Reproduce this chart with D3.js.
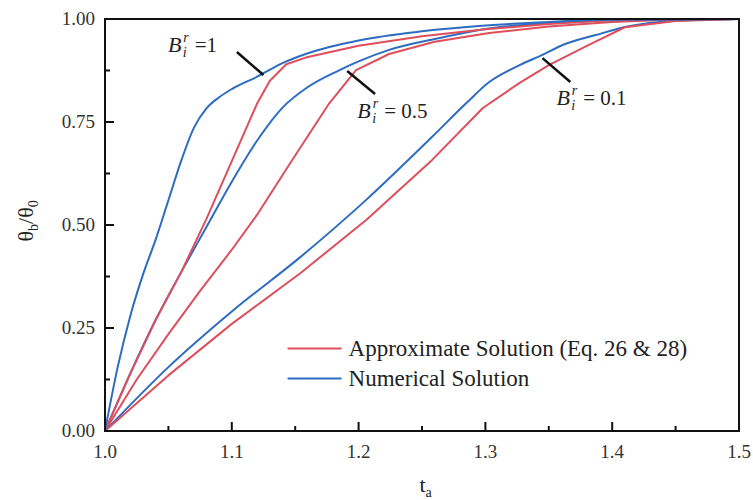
<!DOCTYPE html>
<html>
<head>
<meta charset="utf-8">
<script src="https://cdn.jsdelivr.net/npm/d3@7"></script>
<style>
    body { margin: 0; background: #fff; }
    svg { display: block; }
</style>
</head>
<body>
<div id="chart"></div>
<script>
// [t_a, theta_b/theta_0]
const approxB1 = [[1, 0], [1.02, 0.14], [1.04, 0.27], [1.06, 0.385], [1.08, 0.515], [1.1, 0.655], [1.12, 0.795], [1.13, 0.85], [1.143, 0.89], [1.16, 0.908], [1.2, 0.935], [1.25, 0.958], [1.3, 0.975], [1.35, 0.988], [1.4, 0.997], [1.45, 1.0], [1.5, 1.0]];
const approxB05 = [[1, 0], [1.025, 0.125], [1.05, 0.235], [1.075, 0.34], [1.1, 0.44], [1.12, 0.525], [1.146, 0.65], [1.177, 0.796], [1.198, 0.876], [1.224, 0.915], [1.26, 0.945], [1.303, 0.966], [1.35, 0.982], [1.4, 0.993], [1.45, 0.999], [1.5, 1.0]];
const approxB01 = [[1, 0], [1.05, 0.135], [1.1, 0.26], [1.154, 0.383], [1.206, 0.512], [1.258, 0.658], [1.298, 0.784], [1.327, 0.845], [1.35, 0.888], [1.38, 0.935], [1.41, 0.98], [1.45, 0.995], [1.5, 1.0]];

const numericalB1 = [[1, 0], [1.01, 0.155], [1.02, 0.28], [1.03, 0.38], [1.04, 0.465], [1.05, 0.56], [1.06, 0.655], [1.07, 0.735], [1.08, 0.783], [1.09, 0.81], [1.1, 0.83], [1.12, 0.86], [1.14, 0.893], [1.16, 0.917], [1.2, 0.948], [1.25, 0.97], [1.3, 0.984], [1.35, 0.993], [1.4, 0.998], [1.5, 1.0]];
const numericalB05 = [[1, 0], [1.02, 0.14], [1.04, 0.27], [1.06, 0.385], [1.08, 0.495], [1.1, 0.605], [1.12, 0.705], [1.14, 0.785], [1.16, 0.835], [1.185, 0.876], [1.2, 0.897], [1.224, 0.925], [1.264, 0.954], [1.3, 0.976], [1.35, 0.99], [1.4, 0.997], [1.5, 1.0]];
const numericalB01 = [[1, 0], [1.05, 0.155], [1.1, 0.29], [1.154, 0.422], [1.206, 0.561], [1.258, 0.714], [1.285, 0.796], [1.303, 0.847], [1.327, 0.888], [1.345, 0.913], [1.361, 0.937], [1.387, 0.961], [1.411, 0.981], [1.45, 0.996], [1.5, 1.0]];

const xTicks = [1.0, 1.1, 1.2, 1.3, 1.4, 1.5];
const yTicks = [0, 0.25, 0.5, 0.75, 1.0];
const legendLabels = ["Approximate Solution (Eq. 26 & 28)", "Numerical Solution"];
// annotation: value text, text anchor point, leader line from/to (data coords)
const annotations = [
    { value: "=1", at: [1.0496, 0.92], from: [1.104, 0.92], to: [1.125, 0.864] },
    { value: "= 0.5", at: [1.199, 0.76], from: [1.191, 0.874], to: [1.213, 0.818] },
    { value: "= 0.1", at: [1.356, 0.791], from: [1.345, 0.905], to: [1.367, 0.847] }
];

const red = "#de4f5c";
const blue = "#2d6cc0";
const serif = "Liberation Serif";

const width = 753, height = 500;
const margin = { top: 19, right: 14, bottom: 69, left: 105 };
const chartWidth = width - margin.left - margin.right;
const chartHeight = height - margin.top - margin.bottom;

const svg = d3.select("#chart").append("svg")
    .attr("width", width)
    .attr("height", height)
    .style("font-family", serif);

const chart = svg.append("g")
    .attr("transform", `translate(${margin.left},${margin.top})`);

const x = d3.scaleLinear().domain([1.0, 1.5]).range([0, chartWidth]);
const y = d3.scaleLinear().domain([0, 1]).range([chartHeight, 0]);

// minor ticks (inward, shorter)
const xMinor = d3.range(1.05, 1.5, 0.1);
const yMinor = d3.range(0.125, 1, 0.25);

chart.selectAll(".x-major").data(xTicks.slice(1, -1)).join("line")
    .attr("x1", d => x(d)).attr("x2", d => x(d))
    .attr("y1", chartHeight).attr("y2", chartHeight - 9)
    .attr("stroke", "#111").attr("stroke-width", 2);
chart.selectAll(".x-minor").data(xMinor).join("line")
    .attr("x1", d => x(d)).attr("x2", d => x(d))
    .attr("y1", chartHeight).attr("y2", chartHeight - 5)
    .attr("stroke", "#111").attr("stroke-width", 2);
chart.selectAll(".y-major").data(yTicks.slice(1, -1)).join("line")
    .attr("x1", 0).attr("x2", 9)
    .attr("y1", d => y(d)).attr("y2", d => y(d))
    .attr("stroke", "#111").attr("stroke-width", 2);
chart.selectAll(".y-minor").data(yMinor).join("line")
    .attr("x1", 0).attr("x2", 5)
    .attr("y1", d => y(d)).attr("y2", d => y(d))
    .attr("stroke", "#111").attr("stroke-width", 2);

// tick labels
chart.selectAll(".x-label").data(xTicks).join("text")
    .attr("x", d => x(d))
    .attr("y", chartHeight + 27)
    .attr("text-anchor", "middle")
    .attr("font-size", 19)
    .attr("fill", "#333")
    .text(d => d3.format(".1f")(d));
chart.selectAll(".y-label").data(yTicks).join("text")
    .attr("x", -10)
    .attr("y", d => y(d) + 6)
    .attr("text-anchor", "end")
    .attr("font-size", 19)
    .attr("fill", "#333")
    .text(d => d3.format(".2f")(d));

// curves: numerical ones are smooth, approximate ones piecewise
const lineSmooth = d3.line().x(d => x(d[0])).y(d => y(d[1])).curve(d3.curveMonotoneX);
const lineSharp = d3.line().x(d => x(d[0])).y(d => y(d[1]));
const series = [
    { data: numericalB01, color: blue, smooth: true },
    { data: approxB01, color: red },
    { data: approxB05, color: red },
    { data: numericalB05, color: blue, smooth: true },
    { data: approxB1, color: red },
    { data: numericalB1, color: blue, smooth: true }
];
chart.selectAll(".curve").data(series).join("path")
    .attr("class", "curve")
    .attr("d", d => (d.smooth ? lineSmooth : lineSharp)(d.data))
    .attr("fill", "none")
    .attr("stroke", d => d.color)
    .attr("stroke-width", 2)
    .attr("stroke-linejoin", "round");

// frame
chart.append("rect")
    .attr("width", chartWidth).attr("height", chartHeight)
    .attr("fill", "none").attr("stroke", "#111").attr("stroke-width", 2);

// annotations
annotations.forEach(a => {
    chart.append("line")
        .attr("x1", x(a.from[0])).attr("y1", y(a.from[1]))
        .attr("x2", x(a.to[0])).attr("y2", y(a.to[1]))
        .attr("stroke", "#111").attr("stroke-width", 2.5);
    const t = chart.append("text")
        .attr("x", x(a.at[0])).attr("y", y(a.at[1]))
        .attr("font-size", 22).attr("fill", "#222");
    t.append("tspan").attr("font-style", "italic").text("B");
    t.append("tspan").attr("font-style", "italic").attr("font-size", 14)
        .attr("dx", 2).attr("dy", -10).text("r");
    t.append("tspan").attr("font-style", "italic").attr("font-size", 14)
        .attr("dx", -6).attr("dy", 15).text("i");
    t.append("tspan").attr("font-size", 21).attr("dx", 8).attr("dy", -5).text(a.value);
});

// legend
const legend = chart.append("g").attr("transform", `translate(${x(1.144)},${y(0.2)})`);
legend.selectAll(".legend-item").data([red, blue]).join("g")
    .attr("transform", (d, i) => `translate(0,${i * 30})`)
    .each(function (d, i) {
        const g = d3.select(this);
        g.append("line").attr("x1", 0).attr("x2", 54)
            .attr("stroke", d).attr("stroke-width", 2);
        g.append("text").attr("x", 61).attr("y", 7)
            .attr("font-size", 23).attr("fill", "#222")
            .text(legendLabels[i]);
    });

// axis titles
const yTitle = svg.append("text")
    .attr("transform", `translate(33,${margin.top + y(0.51)}) rotate(-90)`)
    .attr("text-anchor", "middle")
    .attr("font-size", 22)
    .attr("fill", "#222");
yTitle.append("tspan").text("θ");
yTitle.append("tspan").attr("font-size", 14).attr("dy", 5).text("b");
yTitle.append("tspan").attr("dy", -5).text("/θ");
yTitle.append("tspan").attr("font-size", 14).attr("dy", 5).text("0");

const xTitle = svg.append("text")
    .attr("x", margin.left + x(1.248))
    .attr("y", 492)
    .attr("font-size", 22)
    .attr("fill", "#222");
xTitle.append("tspan").text("t");
xTitle.append("tspan").attr("font-size", 14).attr("dy", 5).text("a");
</script>
</body>
</html>
